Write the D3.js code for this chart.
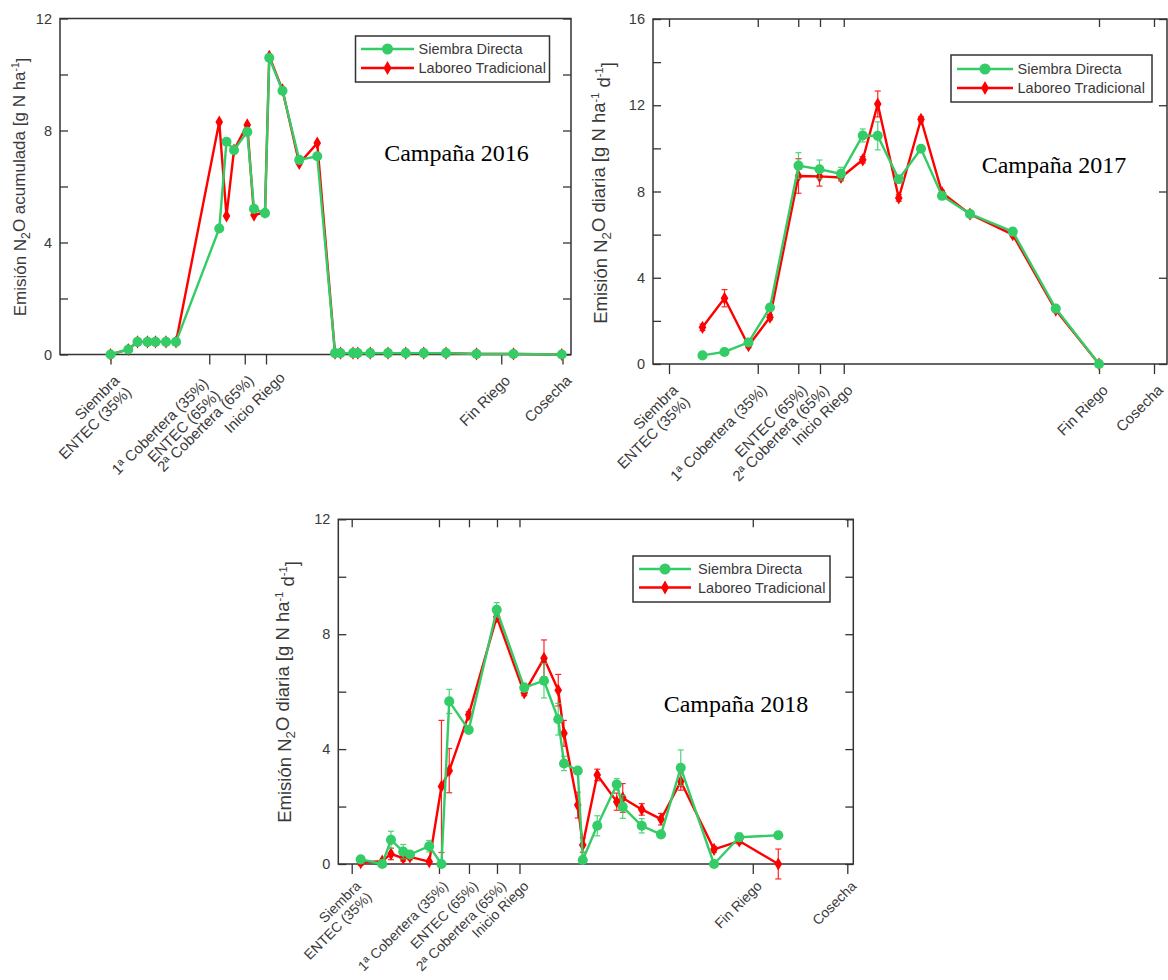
<!DOCTYPE html>
<html>
<head>
<meta charset="utf-8">
<script src="https://cdn.jsdelivr.net/npm/d3@7"></script>
<style>
  body { margin: 0; background: #fff; }
  svg { display: block; }
</style>
</head>
<body>
<svg id="fig" width="1168" height="980"></svg>
<script>
// ---------- Campaña 2016: emisión N2O acumulada (g N/ha) ----------
const days2016 = [0, 7.1, 10.8, 14.8, 18.0, 22.2, 26.2, 43.5, 46.4, 49.4, 54.7, 57.4, 61.8, 63.5, 68.8, 75.5, 82.7,
                  89.8, 92.0, 97.0, 98.9, 103.9, 111.0, 118.1, 125.3, 134.2, 146.4, 161.2, 180.5];
const sd2016 = [0, 0.18, 0.45, 0.45, 0.45, 0.45, 0.45, 4.5, 7.6, 7.3, 7.95, 5.2, 5.05, 10.6, 9.42, 6.95, 7.08,
                0.05, 0.05, 0.05, 0.05, 0.05, 0.05, 0.05, 0.05, 0.05, 0.02, 0.02, 0];
const lt2016 = [0, 0.18, 0.45, 0.45, 0.45, 0.45, 0.45, 8.3, 4.95, 7.3, 8.2, 4.98, 5.08, 10.65, 9.45, 6.82, 7.55,
                0.05, 0.05, 0.05, 0.05, 0.05, 0.05, 0.05, 0.05, 0.05, 0.02, 0.02, 0];
const ticks2016 = [0, 39.5, 53.7, 62.2, 156.3, 180.8];
const tickLabels2016 = ["Siembra\nENTEC (35%)", "1ª Cobertera (35%)\nENTEC (65%)", "2ª Cobertera (65%)",
                        "Inicio Riego", "Fin Riego", "Cosecha"];

// ---------- Campaña 2017: emisión N2O diaria (g N/ha/d) ----------
const days2017 = [13.4, 22.2, 31.8, 40.4, 51.8, 60.2, 68.8, 77.5, 83.5, 91.9, 100.8, 109.2, 120.4, 137.5, 154.7, 172.0];
const sd2017 = [0.40, 0.56, 1.0, 2.62, 9.2, 9.03, 8.82, 10.6, 10.58, 8.57, 9.98, 7.8, 6.96, 6.14, 2.57, 0];
const sdErr2017 = [0.1, 0.1, 0.1, 0.12, 0.6, 0.43, 0.3, 0.3, 0.65, 0.15, 0.15, 0.15, 0.1, 0.15, 0.1, 0];
const lt2017 = [1.70, 3.05, 0.85, 2.17, 8.72, 8.7, 8.65, 9.47, 12.06, 7.7, 11.35, 7.95, 6.95, 6.0, 2.5, 0];
const ltErr2017 = [0.15, 0.4, 0.1, 0.12, 0.8, 0.45, 0.15, 0.15, 0.6, 0.15, 0.12, 0.1, 0.1, 0.1, 0.1, 0];
const ticks2017 = [0, 35.5, 51.7, 60.4, 69.9, 172.0, 194.0];
const tickLabels2017 = ["Siembra\nENTEC (35%)", "1ª Cobertera (35%)", "ENTEC (65%)", "2ª Cobertera (65%)",
                        "Inicio Riego", "Fin Riego", "Cosecha"];

// ---------- Campaña 2018: emisión N2O diaria (g N/ha/d) ----------
const days2018 = [3.6, 12.2, 15.7, 20.6, 23.3, 31.0, 35.9, 39.0, 46.8, 58.0, 69.0, 76.9, 82.6, 84.9, 90.4, 92.4,
                  98.2, 106.0, 108.4, 116.0, 123.7, 131.6, 144.9, 155.0, 170.6];
const sd2018 = [0.16, 0.0, 0.84, 0.43, 0.33, 0.62, 0.0, 5.66, 4.67, 8.85, 6.14, 6.38, 5.04, 3.5, 3.25, 0.14,
                1.33, 2.77, 1.99, 1.33, 1.03, 3.35, 0.0, 0.93, 1.0];
const sdErr2018 = [0.1, 0.05, 0.3, 0.25, 0.1, 0.2, 0.05, 0.42, 0.1, 0.25, 0.15, 0.6, 0.55, 0.25, 0.1, 0.05,
                   0.35, 0.2, 0.4, 0.25, 0.1, 0.62, 0.05, 0.15, 0.12];
const lt2018 = [0.05, 0.1, 0.35, 0.2, 0.25, 0.08, 2.7, 3.25, 5.2, 8.6, 5.96, 7.16, 6.05, 4.55, 2.05, 0.66,
                3.1, 2.17, 2.3, 1.9, 1.56, 2.87, 0.51, 0.8, 0.0];
const ltErr2018 = [0.1, 0.05, 0.2, 0.1, 0.1, 0.05, 2.3, 0.77, 0.1, 0.1, 0.1, 0.64, 0.55, 0.45, 0.45, 0.25,
                   0.2, 0.3, 0.5, 0.2, 0.2, 0.3, 0.1, 0.1, 0.52];
const ticks2018 = [0, 34.9, 46.9, 58.1, 67.1, 160.4, 198.2];
const tickLabels2018 = ["Siembra\nENTEC (35%)", "1ª Cobertera (35%)", "ENTEC (65%)", "2ª Cobertera (65%)",
                        "Inicio Riego", "Fin Riego", "Cosecha"];

const seriesNames = ["Siembra Directa", "Laboreo Tradicional"];
const GREEN = "#33cc66", RED = "#ff0000";
const INK = "#333", LABEL = "#3a3a3a";
const SANS = "'Liberation Sans', Arial, sans-serif";
const SERIF = "'Liberation Serif', 'Times New Roman', serif";

const svg = d3.select("#fig");

function drawPanel(p) {
  const g = svg.append("g");
  const x = d3.scaleLinear().domain(p.xDomain).range([p.x0, p.x1]);
  const y = d3.scaleLinear().domain([0, p.yMax]).range([p.y1, p.y0]);
  const major = d3.range(0, p.yMax + 0.001, 4);
  const minor = d3.range(0, p.yMax + 0.001, 2);

  // left axis: inward ticks, labelled every 4
  const left = g.append("g").attr("transform", `translate(${p.x0},0)`)
    .call(d3.axisLeft(y).tickValues(minor).tickSize(-8).tickPadding(8)
      .tickFormat(d => (d % 4 === 0 ? d : "")));
  // right axis: inward ticks, no labels
  const right = g.append("g").attr("transform", `translate(${p.x1},0)`)
    .call(d3.axisRight(y).tickValues(p.rightMinor ? minor : major).tickSize(-8).tickFormat(""));
  // bottom axis: outward ticks at management events
  const bottom = g.append("g").attr("transform", `translate(0,${p.y1})`)
    .call(d3.axisBottom(x).tickValues(p.ticks).tickSize(10).tickFormat(""));
  if (p.topTicks) {
    g.append("g").attr("transform", `translate(0,${p.y0})`)
      .call(d3.axisTop(x).tickValues(p.ticks).tickSize(-8).tickFormat(""))
      .call(a => a.select(".domain").remove())
      .selectAll("line").attr("stroke", INK).attr("stroke-width", 1.3);
  }
  [left, right, bottom].forEach(a => {
    a.select(".domain").remove();
    a.selectAll("line").attr("stroke", INK).attr("stroke-width", 1.3);
  });
  left.selectAll("text").attr("font-family", SANS).attr("font-size", 14.5).attr("fill", LABEL);

  // frame
  g.append("rect").attr("x", p.x0).attr("y", p.y0).attr("width", p.x1 - p.x0).attr("height", p.y1 - p.y0)
    .attr("fill", "none").attr("stroke", INK).attr("stroke-width", 1.5);

  // rotated event labels under the x axis
  p.ticks.forEach((t, i) => {
    const dx = p.labelDx ? p.labelDx[i] : 0;
    const txt = g.append("text")
      .attr("transform", `translate(${x(t) + 10 + dx},${p.y1 + p.labelDrop - dx * 0.3}) rotate(-45)`)
      .attr("text-anchor", "end").attr("font-family", SANS).attr("font-size", p.labelSize).attr("fill", LABEL);
    p.tickLabels[i].split("\n").forEach((line, k) => {
      txt.append("tspan").attr("x", 0).attr("dy", k === 0 ? 0 : "1.1em").text(line);
    });
  });

  // y-axis title with sub/superscripts
  const yt = g.append("text")
    .attr("transform", `translate(${p.yTitleX},${p.yTitleY}) rotate(-90)`)
    .attr("text-anchor", "middle").attr("font-family", SANS).attr("font-size", p.yTitleSize).attr("fill", LABEL);
  p.yTitle.forEach(([s, kind]) => {
    const ts = yt.append("tspan").text(s);
    if (kind === "sub") ts.attr("font-size", "0.72em").attr("dy", "0.3em");
    if (kind === "sup") ts.attr("font-size", "0.6em").attr("dy", "-0.55em");
    if (kind === "subEnd") ts.attr("dy", "-0.3em");
    if (kind === "supEnd") ts.attr("dy", "0.55em");
  });

  const line = d3.line().x(d => x(d.d)).y(d => y(d.v));
  const series = [
    { vals: p.lt, err: p.ltErr, color: RED, marker: "diamond" },
    { vals: p.sd, err: p.sdErr, color: GREEN, marker: "circle" }
  ];
  series.forEach(s => {
    const pts = p.days.map((d, i) => ({ d, v: s.vals[i], e: s.err ? s.err[i] : 0 }));
    if (s.err) {
      const eb = g.append("g").attr("stroke", s.color).attr("stroke-width", 1.2).attr("opacity", 0.85);
      pts.filter(q => q.e > 0.06).forEach(q => {
        const cx = x(q.d), ya = y(q.v + q.e), yb = y(q.v - q.e);
        eb.append("line").attr("x1", cx).attr("x2", cx).attr("y1", ya).attr("y2", yb);
        eb.append("line").attr("x1", cx - 3).attr("x2", cx + 3).attr("y1", ya).attr("y2", ya);
        eb.append("line").attr("x1", cx - 3).attr("x2", cx + 3).attr("y1", yb).attr("y2", yb);
      });
    }
    g.append("path").datum(pts).attr("d", line).attr("fill", "none")
      .attr("stroke", s.color).attr("stroke-width", 2.4).attr("stroke-linejoin", "round");
    const sym = s.marker === "circle" ? d3.symbol(d3.symbolCircle, 80) : d3.symbol(d3.symbolDiamond, 50);
    g.append("g").selectAll("path").data(pts).join("path")
      .attr("transform", q => `translate(${x(q.d)},${y(q.v)})`)
      .attr("d", sym).attr("fill", s.color);
  });

  // legend
  const L = p.legend;
  const lg = g.append("g");
  lg.append("rect").attr("x", L.x0).attr("y", L.y0).attr("width", L.x1 - L.x0).attr("height", L.y1 - L.y0)
    .attr("fill", "#fff").attr("stroke", INK).attr("stroke-width", 1.5);
  [[GREEN, d3.symbol(d3.symbolCircle, 95)], [RED, d3.symbol(d3.symbolDiamond, 55)]].forEach(([c, sym], k) => {
    const ry = L.rows[k];
    lg.append("line").attr("x1", L.lineX0).attr("x2", L.lineX1).attr("y1", ry).attr("y2", ry)
      .attr("stroke", c).attr("stroke-width", 2.4);
    lg.append("path").attr("transform", `translate(${(L.lineX0 + L.lineX1) / 2},${ry})`).attr("d", sym).attr("fill", c);
    lg.append("text").attr("x", L.textX).attr("y", ry).attr("dy", "0.35em")
      .attr("font-family", SANS).attr("font-size", 14.5).attr("fill", LABEL).text(seriesNames[k]);
  });

  // campaign title
  g.append("text").attr("x", p.titleX).attr("y", p.titleY).attr("text-anchor", "middle")
    .attr("font-family", SERIF).attr("font-size", 24).attr("fill", "#000").text(p.title);
}

const titleDaily = [["Emisión N"], ["2", "sub"], ["O diaria [g N ha", "subEnd"], ["-1", "sup"],
                    [" d", "supEnd"], ["-1", "sup"], ["]", "supEnd"]];
const titleCum = [["Emisión N"], ["2", "sub"], ["O acumulada [g N ha", "subEnd"], ["-1", "sup"], ["]", "supEnd"]];

drawPanel({
  x0: 60, x1: 571, y0: 18.5, y1: 354.5, xDomain: [-20.2, 184.2], yMax: 12,
  rightMinor: true, topTicks: false,
  ticks: ticks2016, tickLabels: tickLabels2016, labelDx: [0, -10, 0, 10, 0, 0], labelSize: 15, labelDrop: 27,
  days: days2016, sd: sd2016, lt: lt2016, sdErr: null, ltErr: null,
  yTitle: titleCum, yTitleX: 26, yTitleY: 187, yTitleSize: 17,
  legend: { x0: 355.5, x1: 549.5, y0: 36, y1: 82, rows: [49, 68], lineX0: 361, lineX1: 414, textX: 418.5 },
  title: "Campaña 2016", titleX: 456.5, titleY: 161
});

drawPanel({
  x0: 653, x1: 1167, y0: 19, y1: 364, xDomain: [-6.4, 199.2], yMax: 16,
  rightMinor: false, topTicks: true,
  ticks: ticks2017, tickLabels: tickLabels2017, labelSize: 15, labelDrop: 27,
  days: days2017, sd: sd2017, lt: lt2017, sdErr: sdErr2017, ltErr: ltErr2017,
  yTitle: titleDaily, yTitleX: 607, yTitleY: 193, yTitleSize: 18.5,
  legend: { x0: 951, x1: 1152, y0: 55, y1: 102, rows: [69, 88], lineX0: 957, lineX1: 1013, textX: 1017.5 },
  title: "Campaña 2017", titleX: 1054, titleY: 173
});

drawPanel({
  x0: 338.3, x1: 853.3, y0: 519.3, y1: 864, xDomain: [-5.36, 200.6], yMax: 12,
  rightMinor: true, topTicks: true,
  ticks: ticks2018, tickLabels: tickLabels2018, labelSize: 14, labelDrop: 23,
  days: days2018, sd: sd2018, lt: lt2018, sdErr: sdErr2018, ltErr: ltErr2018,
  yTitle: titleDaily, yTitleX: 291, yTitleY: 692, yTitleSize: 18.5,
  legend: { x0: 633, x1: 830, y0: 556, y1: 602, rows: [569, 587.5], lineX0: 639, lineX1: 691, textX: 698 },
  title: "Campaña 2018", titleX: 736, titleY: 712
});
</script>
</body>
</html>
